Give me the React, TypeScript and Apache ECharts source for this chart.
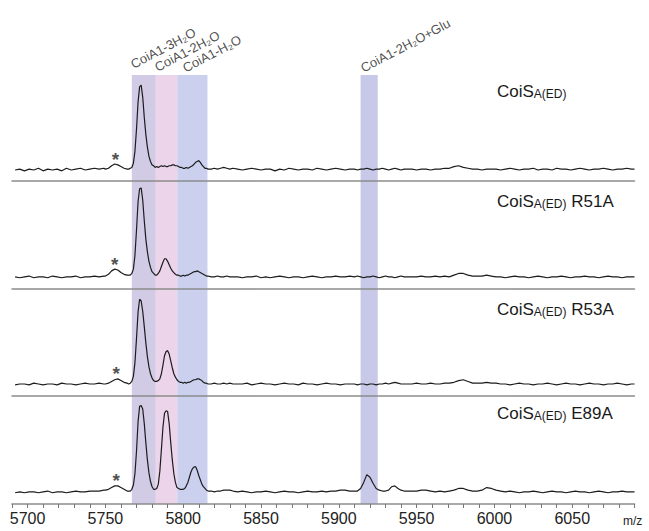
import React, { useEffect, useRef } from 'react';
import * as echarts from 'echarts';

// m/z sampling positions (shared by all four spectra)
const MZ = [
  // 5692-5749
  5692, 5695, 5698, 5701, 5704, 5707, 5710, 5713, 5716, 5719, 5722, 5725, 5728, 5731, 5734, 5737, 5740, 5743, 5746, 5749,
  // 5750-5764
  5750, 5752, 5754, 5756, 5758, 5760, 5762, 5764,
  // 5765-5816
  5765, 5766, 5767, 5768, 5769, 5770, 5771, 5772, 5773, 5774, 5775, 5776, 5777, 5778, 5779, 5780, 5781, 5782, 5783, 5784,
  5785, 5786, 5787, 5788, 5789, 5790, 5791, 5792, 5793, 5794, 5795, 5796, 5797, 5798, 5799, 5800, 5801, 5802, 5803, 5804,
  5805, 5806, 5807, 5808, 5809, 5810, 5811, 5812, 5813, 5814, 5815, 5816,
  // 5818-5832
  5818, 5820, 5822, 5824, 5826, 5828, 5830, 5832,
  // 5835-5907
  5835, 5838, 5841, 5844, 5847, 5850, 5853, 5856, 5859, 5862, 5865, 5868, 5871, 5874, 5877, 5880, 5883, 5886, 5889, 5892,
  5895, 5898, 5901, 5904, 5907,
  // 5910-5944
  5910, 5912, 5914, 5916, 5918, 5920, 5922, 5924, 5926, 5928, 5930, 5932, 5934, 5936, 5938, 5940, 5942, 5944,
  // 5947-6090
  5947, 5950, 5953, 5956, 5959, 5962, 5965, 5968, 5971, 5974, 5977, 5980, 5983, 5986, 5989, 5992, 5995, 5998,
  6001, 6004, 6007, 6010, 6013, 6016, 6019, 6022, 6025, 6028, 6031, 6034, 6037, 6040, 6043, 6046, 6049, 6052,
  6055, 6058, 6061, 6064, 6067, 6070, 6073, 6076, 6079, 6082, 6085, 6088, 6090,
];

// CoiS A(ED)
const P1 = [
  0.00, 0.01, -0.01, 0.01, 0.00, 0.02, -0.01, 0.01, 0.00, 0.01, -0.01, 0.02, 0.00, 0.01, 0.02, 0.00, 0.01, 0.02, 0.01, 0.02,
  0.01, 0.02, 0.05, 0.07, 0.06, 0.04, 0.02, 0.01,
  0.01, 0.02, 0.03, 0.08, 0.22, 0.48, 0.80, 0.98, 1.00, 0.86, 0.62, 0.42, 0.27, 0.16, 0.10, 0.06, 0.05, 0.03, 0.04, 0.03,
  0.04, 0.05, 0.04, 0.05, 0.04, 0.04, 0.05, 0.05, 0.06, 0.06, 0.05, 0.05, 0.04, 0.03, 0.03, 0.02, 0.02, 0.03, 0.02, 0.03,
  0.04, 0.05, 0.07, 0.09, 0.10, 0.11, 0.09, 0.06, 0.04, 0.02, 0.02, 0.01,
  0.01, 0.02, 0.01, 0.02, 0.03, 0.02, 0.01, 0.02,
  0.01, 0.00, 0.01, 0.02, 0.01, 0.00, 0.01, 0.01, -0.01, 0.01, 0.00, 0.02, 0.01, 0.00, 0.01, 0.01, 0.00, 0.02, 0.01, 0.00,
  0.01, 0.02, 0.01, 0.00, 0.01,
  0.01, 0.00, 0.01, 0.01, 0.02, 0.01, 0.00, 0.01, 0.01, 0.02, 0.01, 0.00, 0.01, 0.02, 0.01, 0.00, 0.01, 0.01,
  0.01, 0.00, 0.01, 0.01, 0.00, 0.01, 0.01, 0.02, 0.02, 0.04, 0.05, 0.03, 0.02, 0.01, 0.01, 0.00, 0.01, 0.01,
  0.01, 0.00, 0.01, 0.02, 0.01, 0.00, 0.01, 0.01, 0.02, 0.00, 0.01, 0.01, 0.00, 0.02, 0.01, 0.01, 0.00, 0.01,
  0.02, 0.01, 0.00, 0.01, 0.01, 0.02, 0.01, 0.00, 0.01, 0.01, 0.02, 0.01, 0.01,
];

// CoiS A(ED) R51A
const P2 = [
  0.01, 0.00, 0.01, 0.02, 0.00, 0.01, 0.01, 0.00, 0.02, 0.01, 0.00, 0.01, 0.01, 0.02, 0.00, 0.01, 0.01, 0.02, 0.01, 0.02,
  0.02, 0.04, 0.08, 0.10, 0.09, 0.06, 0.04, 0.03,
  0.03, 0.03, 0.05, 0.10, 0.26, 0.55, 0.88, 1.03, 1.04, 0.90, 0.66, 0.45, 0.30, 0.19, 0.12, 0.07, 0.05, 0.03, 0.03, 0.05,
  0.08, 0.13, 0.18, 0.22, 0.22, 0.19, 0.15, 0.11, 0.08, 0.06, 0.04, 0.03, 0.03, 0.02, 0.02, 0.03, 0.02, 0.03, 0.03, 0.04,
  0.05, 0.06, 0.07, 0.07, 0.08, 0.07, 0.06, 0.05, 0.04, 0.03, 0.02, 0.02,
  0.01, 0.01, 0.02, 0.01, 0.01, 0.02, 0.01, 0.01,
  0.01, 0.00, 0.01, 0.01, 0.02, 0.00, 0.01, 0.00, 0.01, 0.02, 0.01, 0.00, 0.01, 0.01, 0.00, 0.01, 0.02, 0.01, 0.00, 0.01,
  0.01, 0.02, 0.01, 0.01, 0.02,
  0.01, 0.02, 0.01, 0.00, 0.01, 0.01, 0.02, 0.01, 0.00, 0.01, 0.02, 0.01, 0.01, 0.00, 0.01, 0.02, 0.01, 0.01,
  0.01, 0.01, 0.02, 0.01, 0.01, 0.02, 0.01, 0.02, 0.01, 0.03, 0.05, 0.05, 0.03, 0.02, 0.02, 0.02, 0.03, 0.02,
  0.01, 0.01, 0.00, 0.01, 0.02, 0.01, 0.01, 0.00, 0.01, 0.02, 0.01, 0.00, 0.01, 0.01, 0.02, 0.01, 0.00, 0.01,
  0.01, 0.02, 0.01, 0.01, 0.00, 0.01, 0.02, 0.01, 0.01, 0.00, 0.01, 0.01, 0.01,
];

// CoiS A(ED) R53A
const P3 = [
  0.00, 0.01, 0.01, 0.00, 0.02, 0.01, 0.00, 0.01, 0.01, 0.00, 0.02, 0.01, 0.01, 0.00, 0.01, 0.02, 0.01, 0.01, 0.02, 0.01,
  0.01, 0.02, 0.04, 0.06, 0.07, 0.05, 0.03, 0.02,
  0.01, 0.02, 0.04, 0.10, 0.26, 0.54, 0.85, 1.00, 0.98, 0.86, 0.68, 0.49, 0.33, 0.21, 0.13, 0.08, 0.05, 0.04, 0.04, 0.05,
  0.07, 0.13, 0.23, 0.34, 0.39, 0.40, 0.36, 0.28, 0.20, 0.13, 0.09, 0.06, 0.04, 0.03, 0.03, 0.02, 0.03, 0.02, 0.03, 0.03,
  0.04, 0.05, 0.06, 0.06, 0.07, 0.07, 0.06, 0.05, 0.03, 0.02, 0.02, 0.01,
  0.01, 0.02, 0.01, 0.01, 0.02, 0.01, 0.02, 0.01,
  0.01, 0.01, 0.02, 0.00, 0.01, 0.02, 0.01, 0.01, 0.00, 0.01, 0.02, 0.01, 0.01, 0.00, 0.02, 0.01, 0.01, 0.00, 0.01, 0.02,
  0.01, 0.01, 0.00, 0.01, 0.01,
  0.01, 0.00, 0.01, 0.01, 0.00, 0.01, 0.01, 0.00, 0.01, 0.01, 0.02, 0.01, 0.02, 0.03, 0.02, 0.01, 0.01, 0.01,
  0.01, 0.02, 0.01, 0.01, 0.02, 0.01, 0.01, 0.02, 0.02, 0.03, 0.05, 0.06, 0.04, 0.02, 0.02, 0.02, 0.03, 0.02,
  0.02, 0.01, 0.01, 0.00, 0.01, 0.02, 0.01, 0.01, 0.00, 0.01, 0.01, 0.02, 0.01, 0.00, 0.01, 0.02, 0.01, 0.01,
  0.00, 0.01, 0.02, 0.01, 0.01, 0.00, 0.01, 0.01, 0.02, 0.01, 0.00, 0.01, 0.01,
];

// CoiS A(ED) E89A
const P4 = [
  0.00, 0.01, 0.00, 0.01, 0.01, 0.00, 0.01, 0.02, 0.00, 0.01, 0.01, 0.00, 0.01, 0.02, 0.01, 0.01, 0.02, 0.02, 0.02, 0.03,
  0.03, 0.04, 0.06, 0.08, 0.08, 0.06, 0.04, 0.02,
  0.02, 0.02, 0.04, 0.09, 0.22, 0.48, 0.82, 1.00, 1.01, 0.97, 0.80, 0.58, 0.38, 0.23, 0.13, 0.07, 0.04, 0.04, 0.05, 0.10,
  0.25, 0.50, 0.76, 0.92, 0.95, 0.94, 0.80, 0.58, 0.38, 0.22, 0.12, 0.06, 0.05, 0.04, 0.04, 0.04, 0.05, 0.08, 0.12, 0.18,
  0.24, 0.28, 0.30, 0.30, 0.26, 0.20, 0.15, 0.10, 0.07, 0.05, 0.03, 0.02,
  0.02, 0.01, 0.02, 0.02, 0.03, 0.03, 0.03, 0.02,
  0.01, 0.02, 0.01, 0.00, 0.01, 0.01, 0.02, 0.01, 0.00, 0.01, 0.02, 0.01, 0.01, 0.00, 0.01, 0.02, 0.01, 0.01, 0.02, 0.01,
  0.02, 0.02, 0.03, 0.03, 0.02,
  0.02, 0.02, 0.05, 0.12, 0.21, 0.18, 0.11, 0.05, 0.03, 0.02, 0.02, 0.03, 0.07, 0.08, 0.05, 0.03, 0.02, 0.02,
  0.02, 0.02, 0.03, 0.03, 0.02, 0.01, 0.02, 0.01, 0.02, 0.03, 0.05, 0.05, 0.03, 0.02, 0.02, 0.03, 0.06, 0.05,
  0.03, 0.02, 0.01, 0.02, 0.01, 0.00, 0.01, 0.01, 0.02, 0.01, 0.00, 0.01, 0.02, 0.01, 0.01, 0.00, 0.01, 0.02,
  0.01, 0.01, 0.00, 0.01, 0.02, 0.01, 0.00, 0.01, 0.01, 0.02, 0.01, 0.01, 0.01,
];

const SPECTRA = [P1, P2, P3, P4];
const PANEL_SUFFIX = ['', ' R51A', ' R53A', ' E89A'];

// "*" marked peak in each spectrum
const STAR_MZ = [5756.5, 5756, 5757, 5757];
const STAR_VAL = [0.07, 0.1, 0.07, 0.08];

// highlighted m/z bands
const BAND_START = [5767, 5782.4, 5796.2, 5914];
const BAND_END = [5782.4, 5796.2, 5815.6, 5925];

// band annotations
const ANNOT_TEXT = ['CoiA1-3H₂O', 'CoiA1-2H₂O', 'CoiA1-H₂O', 'CoiA1-2H₂O+Glu'];
const ANNOT_MZ = [5769.2, 5784.6, 5802.6, 5917.0];

const X_MIN = 5690;
const X_MAX = 6090;

// layout / style (not data)
const BAND_COLORS = ['#d1cbe5', '#ecd4ea', '#cbd0ee', '#c8c8e8'];
const ANNOT_Y = [1.009, 1.002, 1.0, 1.0];
const GRID_TOP = [75, 181, 289, 396];
const GRID_H = [106, 108, 107, 108];
const LABEL_Y = [81, 191, 299, 403];
const FONT = "'Liberation Sans', Arial, Helvetica, sans-serif";

export default function App() {
  const ref = useRef<HTMLDivElement>(null);

  useEffect(() => {
    document.body.style.margin = '0';
    if (!ref.current) return;
    const chart = echarts.init(ref.current, null, { renderer: 'svg' });

    const grids: any[] = GRID_TOP.map((t, i) => ({ left: 12, right: 14.5, top: t, height: GRID_H[i] }));
    grids.push({ left: 12, right: 14.5, top: 75, height: 504 - 75 });

    const xAxes: any[] = GRID_TOP.map((_, i) => ({
      type: 'value',
      gridIndex: i,
      min: X_MIN,
      max: X_MAX,
      interval: 10,
      z: 5,
      axisLine: { show: true, onZero: false, lineStyle: { color: '#8c8c8c', width: 1.5 } },
      axisTick: { show: i === 3, length: 4, lineStyle: { color: '#777', width: 1 } },
      axisLabel: {
        show: i === 3,
        margin: 6,
        fontSize: 16,
        color: '#222',
        fontFamily: "'Liberation Sans Narrow', 'Liberation Sans', Arial, sans-serif",
        formatter: (v: number) => (Math.round(v) % 50 === 0 && v < 6090 ? String(v) : ''),
      },
      splitLine: { show: false },
    }));
    xAxes.push({ type: 'value', gridIndex: 4, min: X_MIN, max: X_MAX, show: false });

    const yAxes: any[] = GRID_TOP.map((_, i) => ({
      type: 'value',
      gridIndex: i,
      min: -0.13,
      max: 1.12,
      show: false,
    }));
    yAxes.push({ type: 'value', gridIndex: 4, min: 0, max: 1, show: false });

    const series: any[] = [
      {
        type: 'line',
        xAxisIndex: 4,
        yAxisIndex: 4,
        data: [],
        z: 0,
        silent: true,
        markArea: {
          silent: true,
          data: BAND_START.map((s, i) => [
            { xAxis: s, itemStyle: { color: BAND_COLORS[i], opacity: 1 } },
            { xAxis: BAND_END[i] },
          ]),
        },
      },
      {
        type: 'scatter',
        xAxisIndex: 4,
        yAxisIndex: 4,
        clip: false,
        silent: true,
        symbolSize: 1,
        itemStyle: { color: 'rgba(0,0,0,0)' },
        data: ANNOT_MZ.map((m, i) => ({
          value: [m, ANNOT_Y[i]],
          label: { formatter: ANNOT_TEXT[i] },
        })),
        label: {
          show: true,
          position: [0, 0],
          align: 'left',
          verticalAlign: 'bottom',
          rotate: 28,
          fontSize: 13,
          color: '#222',
          fontFamily: FONT,
        },
      },
    ];

    SPECTRA.forEach((vals, i) => {
      series.push({
        type: 'line',
        xAxisIndex: i,
        yAxisIndex: i,
        showSymbol: false,
        symbol: 'none',
        silent: true,
        z: 3,
        lineStyle: { color: '#1c1c1c', width: 1.2 },
        data: MZ.map((m, j) => [m, vals[j]]),
      });
      series.push({
        type: 'scatter',
        xAxisIndex: i,
        yAxisIndex: i,
        silent: true,
        symbolSize: 1,
        z: 4,
        itemStyle: { color: 'rgba(0,0,0,0)' },
        data: [[STAR_MZ[i], STAR_VAL[i]]],
        label: {
          show: true,
          formatter: '*',
          position: 'top',
          distance: 0,
          offset: [0, 5],
          fontSize: 19,
          fontWeight: 'bold',
          color: '#222',
          fontFamily: FONT,
        },
      });
    });

    const graphic: any[] = PANEL_SUFFIX.map((suf, i) => ({
      type: 'text',
      x: 497,
      y: LABEL_Y[i],
      z: 10,
      style: {
        text: '{m|CoiS}{s|A(ED)}' + (suf ? '{m|' + suf + '}' : ''),
        textVerticalAlign: 'top',
        rich: {
          m: { fontSize: 17, fontFamily: FONT, fill: '#1a1a1a', verticalAlign: 'bottom', lineHeight: 19 },
          s: { fontSize: 12, fontFamily: FONT, fill: '#1a1a1a', verticalAlign: 'bottom', lineHeight: 19 },
        },
      },
    }));
    graphic.push({
      type: 'text',
      x: 623,
      y: 515,
      style: { text: 'm/z', fontSize: 12, fontFamily: FONT, fill: '#222' },
    });

    chart.setOption({
      animation: false,
      grid: grids,
      xAxis: xAxes,
      yAxis: yAxes,
      series,
      graphic,
    });

    return () => chart.dispose();
  }, []);

  return <div ref={ref} style={{ width: 649, height: 531 }} />;
}
